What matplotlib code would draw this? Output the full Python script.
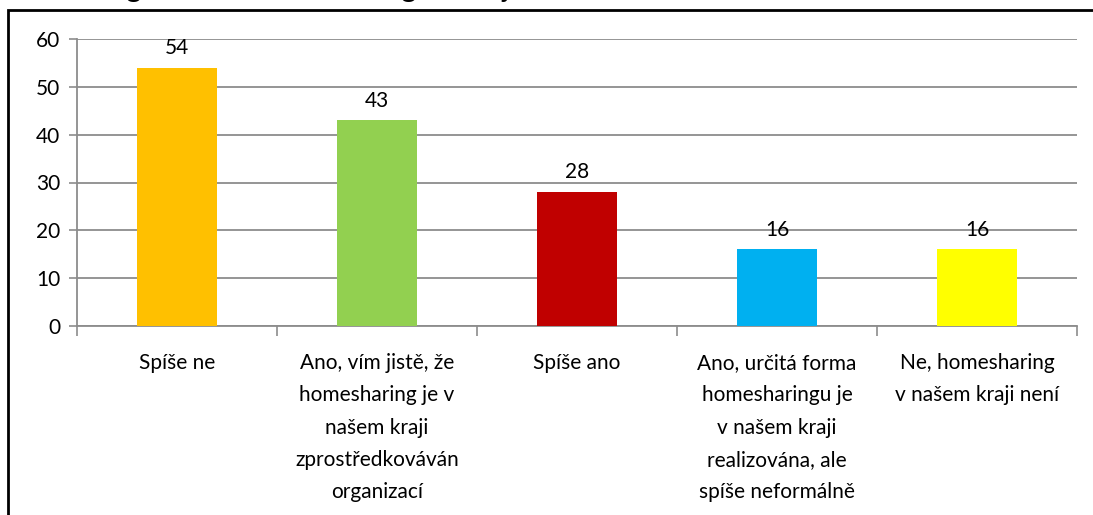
import matplotlib.pyplot as plt
from matplotlib.patches import Rectangle

plt.rcParams['font.family'] = ['Lato', 'DejaVu Sans']

# data
categories = [
    'Spíše ne',
    'Ano, vím jistě, že\nhomesharing je v\nnašem kraji\nzprostředkováván\norganizací',
    'Spíše ano',
    'Ano, určitá forma\nhomesharingu je\nv našem kraji\nrealizována, ale\nspíše neformálně',
    'Ne, homesharing\nv našem kraji není',
]
values = [54, 43, 28, 16, 16]
colors = ['#FFC000', '#92D050', '#C00000', '#00B0F0', '#FFFF00']
yticks = [0, 10, 20, 30, 40, 50, 60]

fig = plt.figure(figsize=(10.93, 5.15), dpi=100)
ax = fig.add_axes([77 / 1093, 1 - 326 / 515, 1000 / 1093, 287 / 515])

x = list(range(len(values)))
bars = ax.bar(x, values, width=0.4, color=colors, zorder=3)
for xi, v in zip(x, values):
    ax.text(xi, v + 2.0, str(v), ha='center', va='bottom', fontsize=15, color='black')

ax.set_xlim(-0.5, len(values) - 0.5)
ax.set_ylim(0, 60)
ax.set_yticks(yticks)
ax.yaxis.grid(True, color='#8c8c8c', linewidth=1.3, zorder=0)
ax.tick_params(axis='y', length=6, width=1.2, color='#8c8c8c', labelsize=15, pad=6)

# category ticks between groups
ax.set_xticks([i + 0.5 for i in range(-1, len(values))])
ax.set_xticklabels([])
ax.tick_params(axis='x', length=7, width=1.2, color='#8c8c8c')
for xi, lab in zip(x, categories):
    ax.text(xi, -0.095, lab, transform=ax.get_xaxis_transform(), ha='center', va='top',
            fontsize=15, linespacing=1.76)

for s in ['top', 'right']:
    ax.spines[s].set_visible(False)
for s in ['left', 'bottom']:
    ax.spines[s].set_color('#8c8c8c')
    ax.spines[s].set_linewidth(1.3)

# outer chart border (cut by image edges)
fig.patches.append(Rectangle((8 / 1093, -0.1), 1.2, 1 - 10 / 515 + 0.1, transform=fig.transFigure,
                             fill=False, edgecolor='black', linewidth=2))

# title, mostly cut off at the top
fig.text(0.0, 1.0 + 3 / 515, 'Graf č. Organizátor homesharingu v kraji', ha='left', va='baseline',
         fontsize=21)

fig.savefig('out.png', dpi=100)
